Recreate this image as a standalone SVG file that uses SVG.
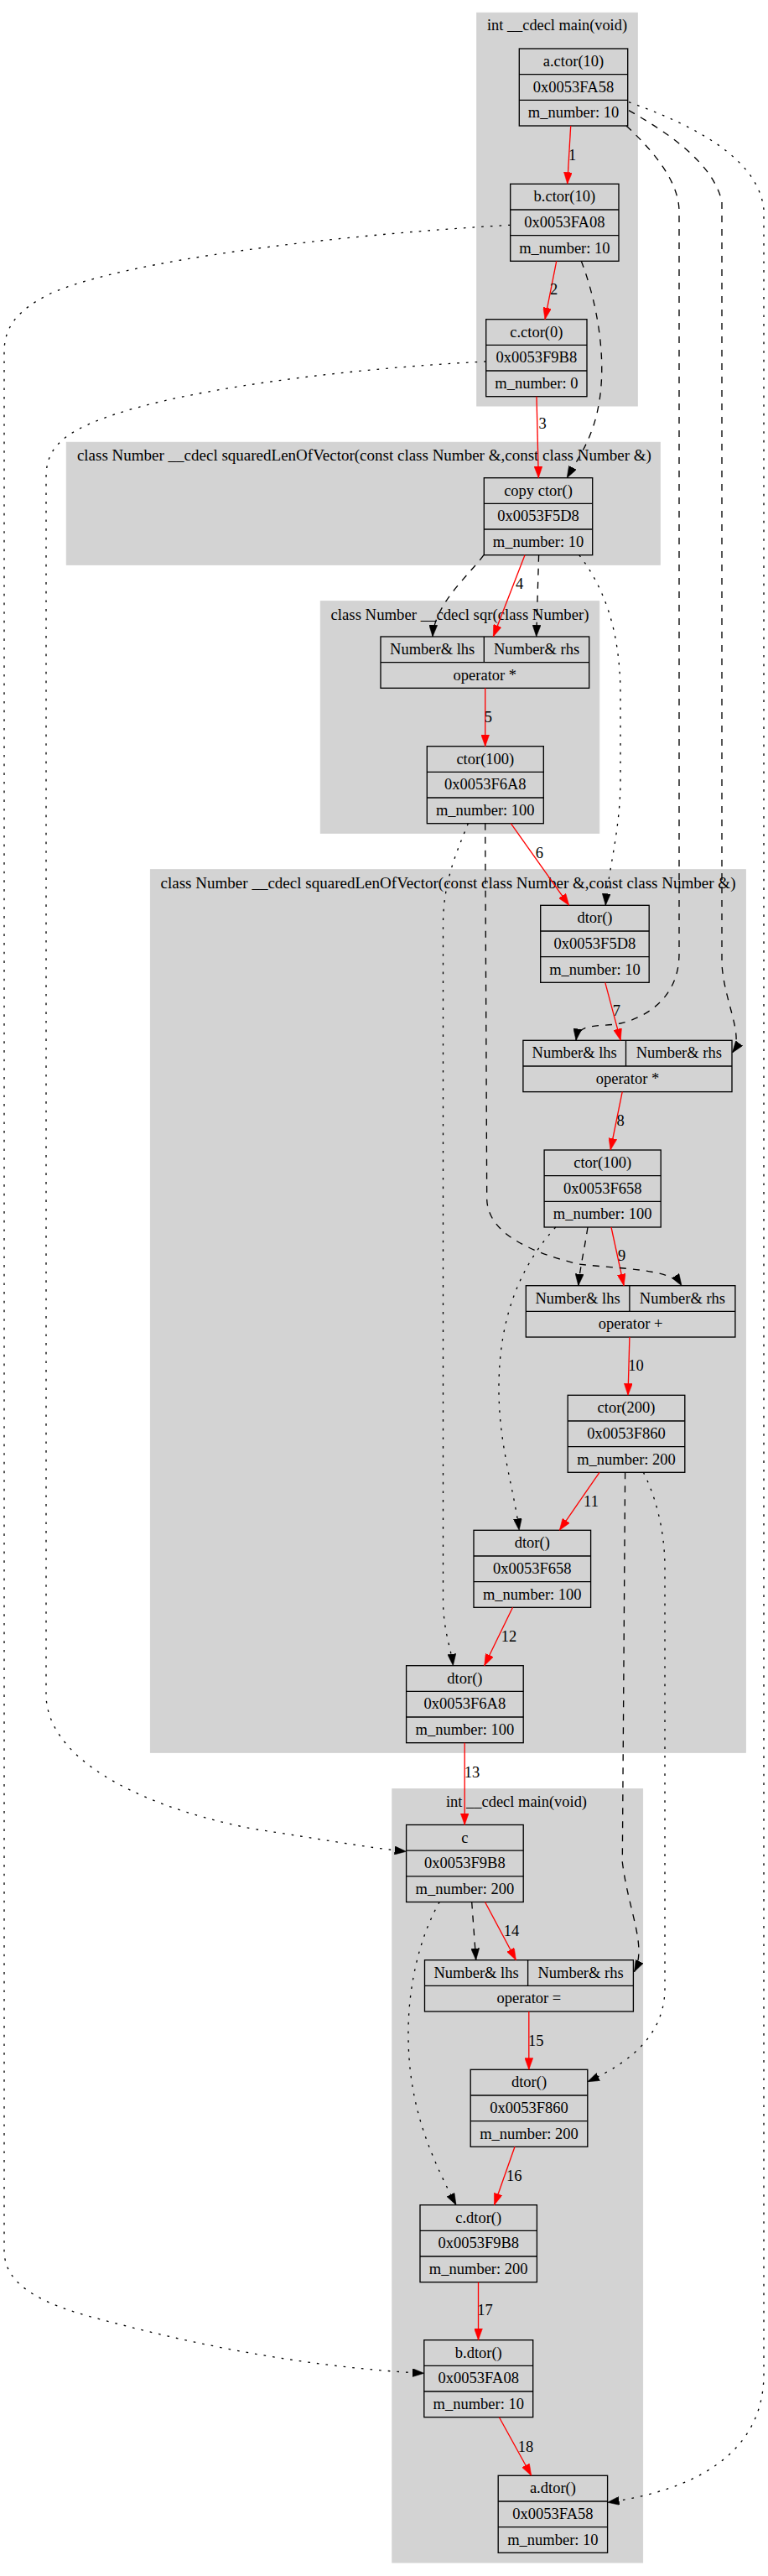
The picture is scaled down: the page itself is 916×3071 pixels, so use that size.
<svg xmlns="http://www.w3.org/2000/svg" width="916" height="3071" viewBox="0 0 916 3071">
<defs>
<style>
.cl{fill:#d3d3d3;stroke:#d3d3d3;stroke-width:1}
.nd rect,.nd line{fill:#d3d3d3;stroke:#000;stroke-width:1.33}
text{font-family:"Liberation Serif","Times New Roman",serif;font-size:18.5px;fill:#000;text-anchor:middle}
.red{fill:none;stroke:#f00;stroke-width:1.33;marker-end:url(#ar)}
.dash{fill:none;stroke:#000;stroke-width:1.33;stroke-dasharray:8,8;marker-end:url(#ab)}
.dot{fill:none;stroke:#000;stroke-width:1.33;stroke-dasharray:2.67,8;marker-end:url(#ab)}
</style>
<marker id="ar" markerUnits="userSpaceOnUse" markerWidth="14" markerHeight="10" viewBox="0 0 13 9.34" refX="13" refY="4.67" orient="auto"><path d="M0,0 L13,4.67 L0,9.34 z" fill="#f00" stroke="#f00" stroke-width="0.5"/></marker>
<marker id="ab" markerUnits="userSpaceOnUse" markerWidth="14" markerHeight="10" viewBox="0 0 13 9.34" refX="13" refY="4.67" orient="auto"><path d="M0,0 L13,4.67 L0,9.34 z" fill="#000" stroke="#000" stroke-width="0.5"/></marker>
</defs>
<rect width="916" height="3071" fill="#fff"/>

<g id="clusters">
<g id="cluster_main1"><rect class="cl" x="568.7" y="15.3" width="191.6" height="468.7"/><text x="664.5" y="36" textLength="167" lengthAdjust="spacingAndGlyphs">int __cdecl main(void)</text></g>
<g id="cluster_sq1"><rect class="cl" x="79.3" y="527.3" width="708" height="146"/><text x="434.4" y="549" textLength="685" lengthAdjust="spacingAndGlyphs">class Number __cdecl squaredLenOfVector(const class Number &amp;,const class Number &amp;)</text></g>
<g id="cluster_sqr"><rect class="cl" x="382.3" y="716.7" width="332.4" height="276.6"/><text x="548.5" y="738.5" textLength="308" lengthAdjust="spacingAndGlyphs">class Number __cdecl sqr(class Number)</text></g>
<g id="cluster_sq2"><rect class="cl" x="179.4" y="1036.7" width="710" height="1052.6"/><text x="534.5" y="1058.5" textLength="686" lengthAdjust="spacingAndGlyphs">class Number __cdecl squaredLenOfVector(const class Number &amp;,const class Number &amp;)</text></g>
<g id="cluster_main2"><rect class="cl" x="467.8" y="2132.7" width="298.8" height="922.3"/><text x="616" y="2154" textLength="168" lengthAdjust="spacingAndGlyphs">int __cdecl main(void)</text></g>
</g>

<g id="n_a_ctor" class="nd"><rect x="619.3" y="58" width="129.4" height="92"/><line x1="619.3" y1="88.67" x2="748.7" y2="88.67"/><line x1="619.3" y1="119.33" x2="748.7" y2="119.33"/><text x="684" y="79">a.ctor(10)</text><text x="684" y="109.67">0x0053FA58</text><text x="684" y="140.33">m_number: 10</text></g>
<g id="n_b_ctor" class="nd"><rect x="608.7" y="219.3" width="129.3" height="92"/><line x1="608.7" y1="249.97" x2="738" y2="249.97"/><line x1="608.7" y1="280.63" x2="738" y2="280.63"/><text x="673.35" y="240.3">b.ctor(10)</text><text x="673.35" y="270.97">0x0053FA08</text><text x="673.35" y="301.63">m_number: 10</text></g>
<g id="n_c_ctor" class="nd"><rect x="579.7" y="380.7" width="120.3" height="92"/><line x1="579.7" y1="411.37" x2="700" y2="411.37"/><line x1="579.7" y1="442.03" x2="700" y2="442.03"/><text x="639.85" y="401.7">c.ctor(0)</text><text x="639.85" y="432.37">0x0053F9B8</text><text x="639.85" y="463.03">m_number: 0</text></g>
<g id="n_copy_ctor" class="nd"><rect x="577.3" y="569.7" width="129.4" height="92"/><line x1="577.3" y1="600.37" x2="706.7" y2="600.37"/><line x1="577.3" y1="631.03" x2="706.7" y2="631.03"/><text x="642" y="590.7">copy ctor()</text><text x="642" y="621.37">0x0053F5D8</text><text x="642" y="652.03">m_number: 10</text></g>
<g id="n_op_mul1" class="nd"><rect x="454" y="759" width="248.7" height="61.33"/><line x1="454" y1="789.67" x2="702.7" y2="789.67"/><line x1="577.3" y1="759" x2="577.3" y2="789.67"/><text x="515.65" y="780">Number&amp; lhs</text><text x="640" y="780">Number&amp; rhs</text><text x="578.35" y="810.67">operator *</text></g>
<g id="n_ctor100_a" class="nd"><rect x="509.3" y="889.7" width="139" height="92"/><line x1="509.3" y1="920.37" x2="648.3" y2="920.37"/><line x1="509.3" y1="951.03" x2="648.3" y2="951.03"/><text x="578.8" y="910.7">ctor(100)</text><text x="578.8" y="941.37">0x0053F6A8</text><text x="578.8" y="972.03">m_number: 100</text></g>
<g id="n_dtor_f5d8" class="nd"><rect x="644.7" y="1079.3" width="129.5" height="92"/><line x1="644.7" y1="1109.97" x2="774.2" y2="1109.97"/><line x1="644.7" y1="1140.63" x2="774.2" y2="1140.63"/><text x="709.45" y="1100.3">dtor()</text><text x="709.45" y="1130.97">0x0053F5D8</text><text x="709.45" y="1161.63">m_number: 10</text></g>
<g id="n_op_mul2" class="nd"><rect x="623.9" y="1240.3" width="249.1" height="61.33"/><line x1="623.9" y1="1270.97" x2="873" y2="1270.97"/><line x1="746.5" y1="1240.3" x2="746.5" y2="1270.97"/><text x="685.2" y="1261.3">Number&amp; lhs</text><text x="809.75" y="1261.3">Number&amp; rhs</text><text x="748.45" y="1291.97">operator *</text></g>
<g id="n_ctor100_b" class="nd"><rect x="649.1" y="1371" width="139.1" height="92"/><line x1="649.1" y1="1401.67" x2="788.2" y2="1401.67"/><line x1="649.1" y1="1432.33" x2="788.2" y2="1432.33"/><text x="718.65" y="1392">ctor(100)</text><text x="718.65" y="1422.67">0x0053F658</text><text x="718.65" y="1453.33">m_number: 100</text></g>
<g id="n_op_add" class="nd"><rect x="627.3" y="1532.7" width="249.6" height="61.33"/><line x1="627.3" y1="1563.37" x2="876.9" y2="1563.37"/><line x1="750.9" y1="1532.7" x2="750.9" y2="1563.37"/><text x="689.1" y="1553.7">Number&amp; lhs</text><text x="813.9" y="1553.7">Number&amp; rhs</text><text x="752.1" y="1584.37">operator +</text></g>
<g id="n_ctor200" class="nd"><rect x="677.2" y="1663.3" width="139.6" height="92"/><line x1="677.2" y1="1693.97" x2="816.8" y2="1693.97"/><line x1="677.2" y1="1724.63" x2="816.8" y2="1724.63"/><text x="747" y="1684.3">ctor(200)</text><text x="747" y="1714.97">0x0053F860</text><text x="747" y="1745.63">m_number: 200</text></g>
<g id="n_dtor_f658" class="nd"><rect x="565" y="1824.3" width="139.6" height="92"/><line x1="565" y1="1854.97" x2="704.6" y2="1854.97"/><line x1="565" y1="1885.63" x2="704.6" y2="1885.63"/><text x="634.8" y="1845.3">dtor()</text><text x="634.8" y="1875.97">0x0053F658</text><text x="634.8" y="1906.63">m_number: 100</text></g>
<g id="n_dtor_f6a8" class="nd"><rect x="484.6" y="1985.7" width="139.6" height="92"/><line x1="484.6" y1="2016.37" x2="624.2" y2="2016.37"/><line x1="484.6" y1="2047.03" x2="624.2" y2="2047.03"/><text x="554.4" y="2006.7">dtor()</text><text x="554.4" y="2037.37">0x0053F6A8</text><text x="554.4" y="2068.03">m_number: 100</text></g>
<g id="n_c" class="nd"><rect x="484.6" y="2175.5" width="139.6" height="92"/><line x1="484.6" y1="2206.17" x2="624.2" y2="2206.17"/><line x1="484.6" y1="2236.83" x2="624.2" y2="2236.83"/><text x="554.4" y="2196.5">c</text><text x="554.4" y="2227.17">0x0053F9B8</text><text x="554.4" y="2257.83">m_number: 200</text></g>
<g id="n_op_assign" class="nd"><rect x="506.5" y="2336.7" width="248.9" height="61.33"/><line x1="506.5" y1="2367.37" x2="755.4" y2="2367.37"/><line x1="629.6" y1="2336.7" x2="629.6" y2="2367.37"/><text x="568.05" y="2357.7">Number&amp; lhs</text><text x="692.5" y="2357.7">Number&amp; rhs</text><text x="630.95" y="2388.37">operator =</text></g>
<g id="n_dtor_f860" class="nd"><rect x="561.2" y="2467.3" width="139.6" height="92"/><line x1="561.2" y1="2497.97" x2="700.8" y2="2497.97"/><line x1="561.2" y1="2528.63" x2="700.8" y2="2528.63"/><text x="631" y="2488.3">dtor()</text><text x="631" y="2518.97">0x0053F860</text><text x="631" y="2549.63">m_number: 200</text></g>
<g id="n_c_dtor" class="nd"><rect x="501" y="2628.7" width="139.4" height="92"/><line x1="501" y1="2659.37" x2="640.4" y2="2659.37"/><line x1="501" y1="2690.03" x2="640.4" y2="2690.03"/><text x="570.7" y="2649.7">c.dtor()</text><text x="570.7" y="2680.37">0x0053F9B8</text><text x="570.7" y="2711.03">m_number: 200</text></g>
<g id="n_b_dtor" class="nd"><rect x="505.8" y="2789.7" width="129.9" height="92"/><line x1="505.8" y1="2820.37" x2="635.7" y2="2820.37"/><line x1="505.8" y1="2851.03" x2="635.7" y2="2851.03"/><text x="570.75" y="2810.7">b.dtor()</text><text x="570.75" y="2841.37">0x0053FA08</text><text x="570.75" y="2872.03">m_number: 10</text></g>
<g id="n_a_dtor" class="nd"><rect x="594.2" y="2951.3" width="130.4" height="92"/><line x1="594.2" y1="2981.97" x2="724.6" y2="2981.97"/><line x1="594.2" y1="3012.63" x2="724.6" y2="3012.63"/><text x="659.4" y="2972.3">a.dtor()</text><text x="659.4" y="3002.97">0x0053FA58</text><text x="659.4" y="3033.63">m_number: 10</text></g>

<g id="connectors">
<path class="red" d="M680.7,150 L676.7,219.3"/><text x="682.7" y="190.5">1</text>
<path class="red" d="M663.7,311.3 L650,380.7"/><text x="660.7" y="351">2</text>
<path class="red" d="M640,472.7 L642.3,569.7"/><text x="647" y="511">3</text>
<path class="red" d="M626,661.7 L588.3,759"/><text x="619.5" y="702">4</text>
<path class="red" d="M578.7,820.3 L578.7,889.7"/><text x="582.3" y="860.5">5</text>
<path class="red" d="M609.3,981.7 L678.7,1079.3"/><text x="643.3" y="1023">6</text>
<path class="red" d="M721.8,1171.3 L740.2,1240.3"/><text x="735.4" y="1211">7</text>
<path class="red" d="M742.2,1301.7 L728.1,1371"/><text x="740" y="1342">8</text>
<path class="red" d="M729,1463 L744.1,1532.7"/><text x="741.7" y="1503">9</text>
<path class="red" d="M750.9,1594 L749,1663.3"/><text x="758.6" y="1634">10</text>
<path class="red" d="M715,1755.3 L667.3,1824.3"/><text x="705" y="1795.5">11</text>
<path class="red" d="M611.5,1916.3 L577.7,1985.7"/><text x="607" y="1957">12</text>
<path class="red" d="M554.2,2077.7 L554.2,2175.5"/><text x="563" y="2118.5">13</text>
<path class="red" d="M578.5,2267.5 L615.4,2336.7"/><text x="610" y="2308">14</text>
<path class="red" d="M630.8,2398 L630.8,2467.3"/><text x="639.2" y="2438.5">15</text>
<path class="red" d="M614,2559.3 L589.5,2628.7"/><text x="613.2" y="2599.5">16</text>
<path class="red" d="M570.5,2720.7 L570.5,2789.7"/><text x="578.4" y="2760">17</text>
<path class="red" d="M595.4,2881.7 L633.7,2951.3"/><text x="627" y="2923">18</text>

<path class="dash" d="M747,150 C785,185 810,220 810,252 L810,1137 C810,1190 770,1213 740,1220 C715,1225 690,1218 687,1240.3"/>
<path class="dash" d="M750,131.7 C800,160 850,195 861,240 L861,1150 C864,1195 888,1235 873.5,1255"/>
<path class="dot" d="M750,121.7 C830,150 905,190 911,250 L911,2830 C911,2930 820,2970 724.6,2983.3"/>
<path class="dash" d="M693.3,311.3 C712,360 722,420 716,470 C710,520 690,545 676.2,569.7"/>
<path class="dot" d="M608.7,268.3 C400,280 150,310 60,350 C20,370 5,390 5,420 L5,2683 C5,2720 40,2745 120,2765 C250,2800 380,2823 505.8,2829.3"/>
<path class="dot" d="M579.7,431 C400,440 150,470 80,520 C60,535 55,550 55,570 L55,2020 C55,2090 150,2150 300,2180 C380,2192 440,2203 484.6,2207.3"/>
<path class="dash" d="M577,661.7 C560,685 518,720 516,759"/>
<path class="dash" d="M642.6,661.7 L639.7,759"/>
<path class="dot" d="M690.8,661.7 C720,700 740,750 740,830 L740,930 C740,990 725,1040 722.3,1079.3"/>
<path class="dot" d="M558.3,981.7 C545,1015 529,1050 528.5,1100 L528.5,1910 C529,1945 538,1965 540.4,1985.7"/>
<path class="dash" d="M578.7,981.7 L580.7,1430 C582,1465 620,1490 690,1507 C740,1513 800,1512 813,1532.7"/>
<path class="dash" d="M701,1463 C697,1490 692,1510 689.8,1532.7"/>
<path class="dot" d="M662.7,1463 C620,1510 596,1570 595,1650 C594,1720 612,1770 619.2,1824.3"/>
<path class="dash" d="M745.6,1755.3 L742.3,2220 C750,2280 772,2320 756.5,2350.7"/>
<path class="dot" d="M767.4,1755.3 C780,1780 793,1820 793,1870 L793,2370 C793,2420 760,2455 700.8,2481.7"/>
<path class="dash" d="M562.7,2267.5 L567.7,2336.7"/>
<path class="dot" d="M524.2,2267.5 C500,2310 486,2370 487,2430 C488,2500 505,2555 544,2628.7"/>
</g>
</svg>
